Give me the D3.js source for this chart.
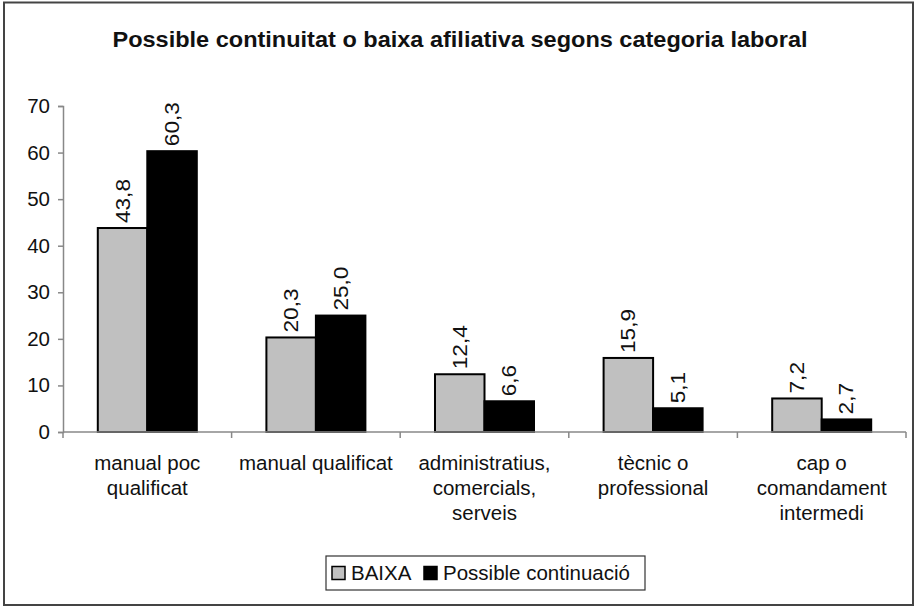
<!DOCTYPE html>
<html>
<head>
<meta charset="utf-8">
<script src="https://cdn.jsdelivr.net/npm/d3@7"></script>
<style>
  html, body { margin: 0; padding: 0; background: #fff; }
  svg { display: block; }
  text { font-family: "Liberation Sans", Arial, Helvetica, sans-serif; fill: #111; }
</style>
</head>
<body>
<svg id="chart" width="918" height="608"></svg>
<script>
// Afiliació per categoria laboral (%)
const categories = [
  "manual poc qualificat",
  "manual qualificat",
  "administratius, comercials, serveis",
  "tècnic o professional",
  "cap o comandament intermedi"
];
const categoryLines = [
  ["manual poc", "qualificat"],
  ["manual qualificat"],
  ["administratius,", "comercials,", "serveis"],
  ["tècnic o", "professional"],
  ["cap o", "comandament", "intermedi"]
];
const seriesNames = ["BAIXA", "Possible continuació"];
const baixa = [43.8, 20.3, 12.4, 15.9, 7.2];
const continuacio = [60.3, 25.0, 6.6, 5.1, 2.7];
const yTicks = [0, 10, 20, 30, 40, 50, 60, 70];
const title = "Possible continuitat o baixa afiliativa segons categoria laboral";

const seriesColors = ["#c0c0c0", "#000000"];
const seriesValues = [baixa, continuacio];

const svg = d3.select("#chart");

// outer frame
svg.append("rect")
  .attr("x", 4).attr("y", 2.5)
  .attr("width", 909).attr("height", 602.5)
  .attr("fill", "none").attr("stroke", "#444").attr("stroke-width", 2);

// title
const t = svg.append("text")
  .attr("x", 460).attr("y", 47)
  .attr("text-anchor", "middle")
  .attr("font-size", 22).attr("font-weight", "bold")
  .text(title);
const tw = t.node().getComputedTextLength();
if (Math.abs(tw - 695) > 4) t.attr("textLength", 695).attr("lengthAdjust", "spacingAndGlyphs");

const plot = { left: 63, right: 906, top: 106, bottom: 432 };

const x0 = d3.scaleBand()
  .domain(categories)
  .range([plot.left, plot.right])
  .paddingInner(0).paddingOuter(0);

const x1 = d3.scaleBand()
  .domain(seriesNames)
  .range([0, x0.bandwidth()])
  .paddingInner(0).paddingOuter(0.703);

const y = d3.scaleLinear().domain([0, 70]).range([plot.bottom, plot.top]);

// y axis
const yAxis = svg.append("g")
  .attr("transform", `translate(${plot.left},0)`)
  .call(d3.axisLeft(y).tickValues(yTicks).tickSize(5).tickPadding(8).tickFormat(d3.format("d")));
yAxis.select(".domain").attr("stroke", "#888").attr("stroke-width", 1.5);
yAxis.selectAll(".tick line").attr("stroke", "#888").attr("stroke-width", 1.5);
yAxis.selectAll(".tick text").attr("font-size", 20.5).attr("fill", "#111")
  .attr("x", -13)
  .attr("font-family", "Liberation Sans, Arial, sans-serif");

// bars
const groups = svg.append("g").selectAll("g")
  .data(categories)
  .join("g")
  .attr("transform", d => `translate(${x0(d)},0)`);

const fmt = v => d3.format(".1f")(v).replace(".", ",");

seriesNames.forEach((s, si) => {
  groups.append("rect")
    .attr("x", x1(s))
    .attr("y", (d, i) => y(seriesValues[si][i]))
    .attr("width", x1.bandwidth())
    .attr("height", (d, i) => y(0) - y(seriesValues[si][i]))
    .attr("fill", seriesColors[si])
    .attr("stroke", "#000")
    .attr("stroke-width", 2);

  groups.append("text")
    .attr("transform", (d, i) =>
      `translate(${x1(s) + x1.bandwidth() / 2},${y(seriesValues[si][i]) - 5}) rotate(-90)`)
    .attr("dy", "0.35em")
    .attr("text-anchor", "start")
    .attr("font-size", 20)
    .text((d, i) => fmt(seriesValues[si][i]))
    .each(function() {
      // labels run slightly wide along their reading direction
      const w = this.getComputedTextLength();
      d3.select(this).attr("textLength", w * 1.13).attr("lengthAdjust", "spacingAndGlyphs");
    });
});

// x axis
const xAxis = svg.append("g")
  .attr("transform", `translate(0,${plot.bottom})`);
xAxis.append("line")
  .attr("x1", plot.left).attr("x2", plot.right)
  .attr("stroke", "#888").attr("stroke-width", 1.5);
const boundaries = categories.map(c => x0(c)).concat([plot.right]);
xAxis.selectAll("line.tick")
  .data(boundaries)
  .join("line")
  .attr("class", "tick")
  .attr("x1", d => d).attr("x2", d => d)
  .attr("y1", 0).attr("y2", 6)
  .attr("stroke", "#888").attr("stroke-width", 1.5);

// category labels
const labels = svg.append("g").selectAll("text")
  .data(categories)
  .join("text")
  .attr("text-anchor", "middle")
  .attr("font-size", 20.5)
  .attr("x", d => x0(d) + x0.bandwidth() / 2)
  .attr("y", 470);
labels.each(function(d, i) {
  const el = d3.select(this);
  categoryLines[i].forEach((line, li) => {
    el.append("tspan")
      .attr("x", x0(d) + x0.bandwidth() / 2)
      .attr("y", 470 + li * 25)
      .text(line);
  });
});

// legend
const legend = svg.append("g");
legend.append("rect")
  .attr("x", 326).attr("y", 556)
  .attr("width", 319).attr("height", 34)
  .attr("fill", "#fff").attr("stroke", "#333").attr("stroke-width", 1.2);
const legendX = [332, 424];
const legendTextX = [351, 443];
seriesNames.forEach((s, si) => {
  legend.append("rect")
    .attr("x", legendX[si]).attr("y", 566.5)
    .attr("width", 13).attr("height", 13)
    .attr("fill", seriesColors[si]).attr("stroke", "#000").attr("stroke-width", 1.5);
  legend.append("text")
    .attr("x", legendTextX[si]).attr("y", 580)
    .attr("font-size", 20.5)
    .text(s);
});
</script>
</body>
</html>
